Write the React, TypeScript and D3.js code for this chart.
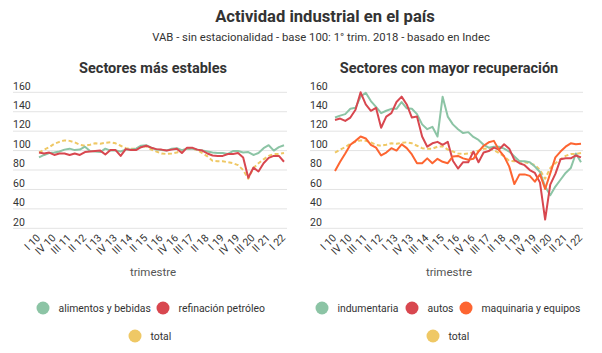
import React from "react";
import * as d3 from "d3";

const years = d3.range(10, 23);
const romans = ["I", "II", "III", "IV"];
const quarters: string[] = [];
years.forEach((y) => romans.forEach((r) => quarters.push(`${r} ${y}`)));
quarters.splice(49);

const tickLabels = ["I 10","IV 10","III 11","II 12","I 13","IV 13","III 14","II 15","I 16","IV 16","III 17","II 18","I 19","IV 19","III 20","II 21","I 22"];
const yTicks = [20, 40, 60, 80, 100, 120, 140, 160];

const alimentos = [93, 95.5, 97.5, 98, 99, 101, 102, 100.5, 101, 104, 99.5, 99, 98.5, 102, 100, 100, 99, 101, 101, 102, 105, 105.5, 103, 101, 100.5, 100, 102, 102.5, 100.5, 102, 102, 101, 100, 99, 98, 97.5, 97.5, 96.5, 99.5, 99.5, 98, 98.5, 95.5, 97.5, 102.5, 105.5, 100, 103.5, 105.5];
const refinacion = [98, 97, 98, 95.5, 97, 97, 95.5, 97, 95.5, 98.5, 99, 99.5, 100, 96, 100.5, 100.5, 94.5, 101.5, 100.5, 100.5, 103.5, 105, 103, 101.5, 101, 100, 101, 102, 97.5, 103, 103, 101, 100, 97, 95, 94.5, 94.5, 96.5, 96.5, 97.5, 93, 72, 82.5, 78.5, 87, 92.5, 94.5, 94.5, 88.5];
const total = [98, 101, 103.5, 107, 109, 110.5, 110, 108.5, 106, 105, 106, 107.5, 107, 108, 108.5, 107.5, 105, 102.5, 102, 102, 104, 104.5, 101, 99, 97, 96.5, 97, 98, 100, 102, 102, 100.5, 97.5, 94, 89.5, 89, 89, 88, 87, 85, 80, 71, 82, 87, 91, 94.5, 96.5, 96.5, 97.5];
const indumentaria = [134, 136, 137.5, 143, 144, 155.5, 159.5, 151, 145, 138.5, 141, 143, 143, 150, 143.5, 143, 137.5, 127, 122, 124.5, 114.5, 155.5, 135, 127, 122, 118, 119, 114, 111, 106, 103, 104, 104, 102, 99, 94, 89, 89, 88, 83.5, 78, 63, 54, 63, 70, 77, 82, 97, 88];
const autos = [131.5, 133, 130.5, 134, 142, 160, 147.5, 141, 144, 123.5, 135, 138.5, 150, 155.5, 147.5, 134, 135, 114.5, 104, 107.5, 109, 106, 109, 89.5, 81.5, 88, 88, 99, 88, 98, 99.5, 103, 101, 106.5, 102, 90.5, 87, 85, 80, 77, 67, 29, 65, 76, 91, 92, 92, 95, 93];
const maquinaria = [79, 88.5, 97, 106, 110, 114.5, 112.5, 106, 103, 95, 98, 102.5, 100, 106.5, 102.5, 96, 87, 87, 92, 87, 91.5, 88.5, 87, 94, 94.5, 92, 90.5, 91.5, 99, 105, 108.5, 110, 100.5, 94, 83.5, 65.5, 75.5, 75.5, 74, 68, 75.5, 60.5, 76.5, 93, 99, 104, 107.5, 106.5, 107];

const C_GREEN = "#8cc4a5";
const C_RED = "#d8474f";
const C_ORANGE = "#fd6531";
const C_YELLOW = "#efc865";
const FONT = "Roboto, 'Noto Sans', sans-serif";

type Series = { name: string; values: number[]; color: string; dashed?: boolean };

function Panel({ title, x0, x1, gx0, gx1, series, cx }: { title: string; x0: number; x1: number; gx0: number; gx1: number; series: Series[]; cx: number }) {
  const x = d3.scalePoint<string>().domain(quarters).range([x0, x1]);
  const y = d3.scaleLinear().domain([20, 160]).range([228.3, 92.3]);
  const line = d3.line<number>().x((_, i) => x(quarters[i]) as number).y((d) => y(d));
  return (
    <g>
      <text x={cx} y={73} textAnchor="middle" fontFamily={FONT} fontWeight={700} fontSize={14.5} fill="#333">{title}</text>
      {yTicks.map((t) => (
        <g key={t}>
          <line x1={gx0} x2={gx1} y1={y(t)} y2={y(t)} stroke="#e3e3e3" strokeWidth={1} />
          <text x={gx0} y={y(t) - 2.8} fontFamily={FONT} fontSize={10.5} fill="#333">{t}</text>
        </g>
      ))}
      {tickLabels.map((l) => (
        <text key={l} transform={`translate(${(x(l) as number) + 2},${238.5}) rotate(-45)`} textAnchor="end" fontFamily={FONT} fontSize={10.5} fill="#333">{l}</text>
      ))}
      <text x={cx} y={276} textAnchor="middle" fontFamily={FONT} fontSize={11.5} fill="#555">trimestre</text>
      {[...series.filter((s) => s.dashed), ...series.filter((s) => !s.dashed)].map((s) => (
        <path key={s.name} d={line(s.values) || ""} fill="none" stroke={s.color} strokeWidth={2} strokeDasharray={s.dashed ? "4 2.5" : undefined} strokeLinejoin="round" />
      ))}
    </g>
  );
}

function Legend({ items }: { items: { label: string; color: string; cx: number; cy: number }[] }) {
  return (
    <g>
      {items.map((it) => (
        <g key={it.label + it.cx}>
          <circle cx={it.cx} cy={it.cy} r={6.5} fill={it.color} />
          <text x={it.cx + 15.5} y={it.cy + 3.8} fontFamily={FONT} fontSize={10.4} fill="#333">{it.label}</text>
        </g>
      ))}
    </g>
  );
}

export default function App() {
  const leftSeries: Series[] = [
    { name: "alimentos y bebidas", values: alimentos, color: C_GREEN },
    { name: "refinación petróleo", values: refinacion, color: C_RED },
    { name: "total", values: total, color: C_YELLOW, dashed: true },
  ];
  const rightSeries: Series[] = [
    { name: "indumentaria", values: indumentaria, color: C_GREEN },
    { name: "autos", values: autos, color: C_RED },
    { name: "maquinaria y equipos", values: maquinaria, color: C_ORANGE },
    { name: "total", values: total, color: C_YELLOW, dashed: true },
  ];
  return (
    <svg width={602} height={353} style={{ position: "absolute", left: 0, top: 0, background: "#fff" }}>
      <text x={325} y={21.5} textAnchor="middle" fontFamily={FONT} fontWeight={700} fontSize={16.6} fill="#333">Actividad industrial en el país</text>
      <text x={321} y={41} textAnchor="middle" fontFamily={FONT} fontSize={11.3} fill="#333">VAB - sin estacionalidad - base 100: 1° trim. 2018 - basado en Indec</text>
      <Panel title="Sectores más estables" x0={39} x1={284} gx0={13} gx1={287} series={leftSeries} cx={153} />
      <Panel title="Sectores con mayor recuperación" x0={335} x1={581} gx0={310} gx1={583} series={rightSeries} cx={449} />
      <Legend items={[
        { label: "alimentos y bebidas", color: C_GREEN, cx: 43, cy: 308 },
        { label: "refinación petróleo", color: C_RED, cx: 163, cy: 308 },
        { label: "total", color: C_YELLOW, cx: 135, cy: 336 },
        { label: "indumentaria", color: C_GREEN, cx: 322, cy: 308 },
        { label: "autos", color: C_RED, cx: 412, cy: 308 },
        { label: "maquinaria y equipos", color: C_ORANGE, cx: 466, cy: 308 },
        { label: "total", color: C_YELLOW, cx: 433, cy: 336 },
      ]} />
    </svg>
  );
}
